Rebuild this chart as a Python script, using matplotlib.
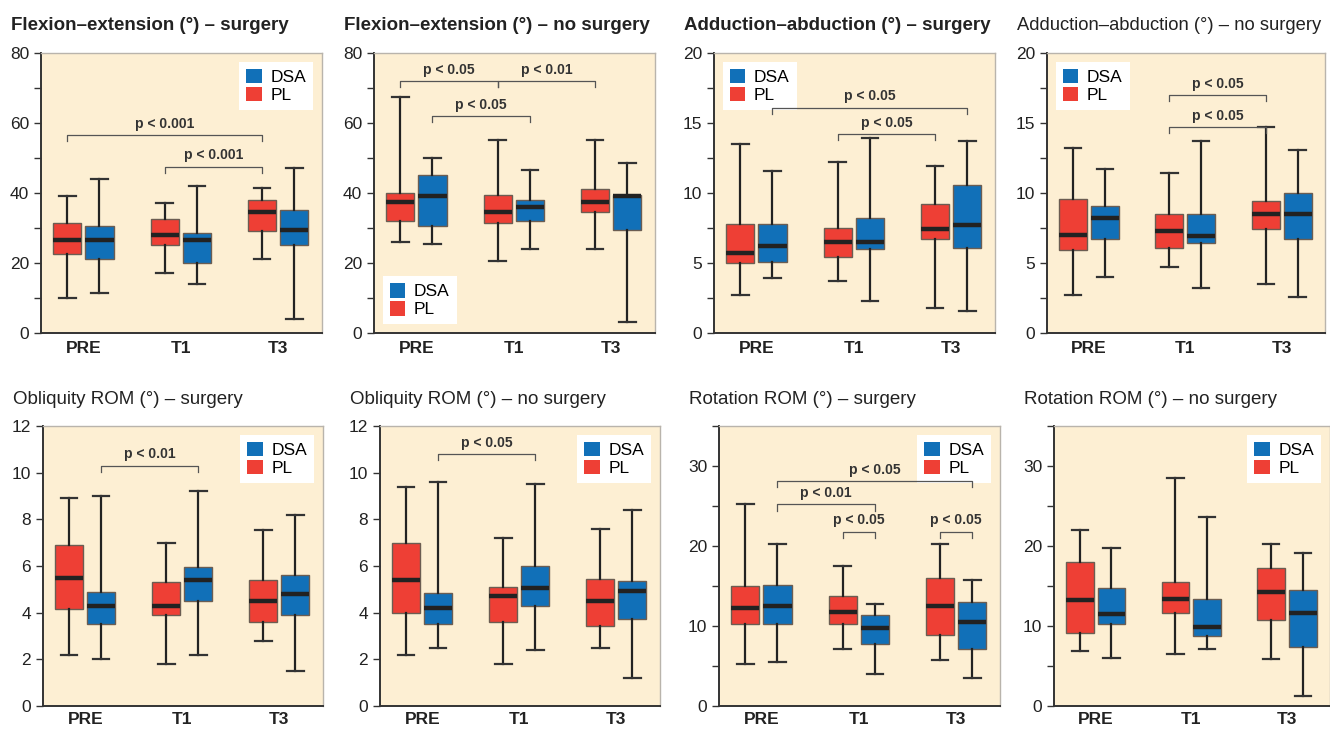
import matplotlib
matplotlib.use("Agg")
import matplotlib.pyplot as plt
from matplotlib.patches import Patch

plt.rcParams['font.family'] = ['Liberation Sans', 'DejaVu Sans']

RED = '#ee3f35'
BLUE = '#1170b8'
BG = '#fdefd3'

timepoints = ['PRE', 'T1', 'T3']

titles = [
    'Flexion–extension (°) – surgery',
    'Flexion–extension (°) – no surgery',
    'Adduction–abduction (°) – surgery',
    'Adduction–abduction (°) – no surgery',
    'Obliquity ROM (°) – surgery',
    'Obliquity ROM (°) – no surgery',
    'Rotation ROM (°) – surgery',
    'Rotation ROM (°) – no surgery',
]
title_bold = [True, True, True, False, False, False, False, False]

# (min, q1, median, q3, max) per timepoint
pl_flex_s = [(10, 22.5, 26.5, 31.5, 39), (17, 25, 28, 32.5, 37), (21, 29, 34.5, 38, 41.5)]
dsa_flex_s = [(11.5, 21, 26.5, 30.5, 44), (14, 20, 26.5, 28.5, 42), (4, 25, 29.5, 35, 47)]
pl_flex_n = [(26, 32, 37.5, 40, 67.5), (20.5, 31.5, 34.5, 39.5, 55), (24, 34.5, 37.5, 41, 55)]
dsa_flex_n = [(25.5, 30.5, 39, 45, 50), (24, 32, 36, 38, 46.5), (3, 29.5, 39, 39.5, 48.5)]
pl_add_s = [(2.7, 5, 5.7, 7.8, 13.5), (3.7, 5.4, 6.5, 7.5, 12.2), (1.8, 6.7, 7.4, 9.2, 11.9)]
dsa_add_s = [(3.9, 5.1, 6.2, 7.8, 11.6), (2.3, 6, 6.5, 8.2, 13.9), (1.6, 6.1, 7.7, 10.6, 13.7)]
pl_add_n = [(2.7, 5.9, 7, 9.6, 13.2), (4.7, 6.1, 7.3, 8.5, 11.4), (3.5, 7.4, 8.5, 9.4, 14.7)]
dsa_add_n = [(4, 6.7, 8.2, 9.1, 11.7), (3.2, 6.4, 6.9, 8.5, 13.7), (2.6, 6.7, 8.5, 10, 13.1)]
pl_obl_s = [(2.2, 4.15, 5.5, 6.9, 8.9), (1.8, 3.9, 4.3, 5.3, 7), (2.8, 3.6, 4.5, 5.4, 7.55)]
dsa_obl_s = [(2, 3.5, 4.3, 4.9, 9), (2.2, 4.5, 5.4, 5.95, 9.2), (1.5, 3.9, 4.8, 5.6, 8.2)]
pl_obl_n = [(2.2, 4, 5.4, 7, 9.4), (1.8, 3.6, 4.7, 5.1, 7.2), (2.5, 3.45, 4.5, 5.45, 7.6)]
dsa_obl_n = [(2.5, 3.5, 4.2, 4.85, 9.6), (2.4, 4.3, 5.05, 6, 9.5), (1.2, 3.75, 4.95, 5.35, 8.4)]
pl_rot_s = [(5.3, 10.3, 12.3, 15, 25.2), (7.1, 10.3, 11.7, 13.7, 17.5), (5.7, 8.9, 12.5, 16, 20.2)]
dsa_rot_s = [(5.5, 10.3, 12.5, 15.1, 20.2), (4, 7.8, 9.8, 11.4, 12.8), (3.5, 7.1, 10.5, 13, 15.7)]
pl_rot_n = [(6.9, 9.1, 13.2, 18, 22), (6.5, 11.6, 13.4, 15.5, 28.5), (5.9, 10.7, 14.3, 17.3, 20.2)]
dsa_rot_n = [(6, 10.3, 11.5, 14.7, 19.7), (7.1, 8.7, 9.9, 13.4, 23.6), (1.3, 7.4, 11.6, 14.5, 19.1)]

pl_all = [pl_flex_s, pl_flex_n, pl_add_s, pl_add_n, pl_obl_s, pl_obl_n, pl_rot_s, pl_rot_n]
dsa_all = [dsa_flex_s, dsa_flex_n, dsa_add_s, dsa_add_n, dsa_obl_s, dsa_obl_n, dsa_rot_s, dsa_rot_n]

# y-axis: (top, major step, minor step)
yaxes = [(80, 20, 10), (80, 20, 10), (20, 5, 2.5), (20, 5, 2.5),
         (12, 2, 2), (12, 2, 2), (35, 10, 5), (35, 10, 5)]

legend_loc = ['upper right', 'lower left', 'upper left', 'upper left',
              'upper right', 'upper right', 'upper right', 'upper right']

# brackets: (group a, series a, group b, series b, y, text); series 0 = PL, 1 = DSA
brackets = [
    [(0, 0, 2, 0, 56.5, 'p < 0.001'), (1, 0, 2, 0, 47.5, 'p < 0.001')],
    [(0, 0, 1, 0, 72, 'p < 0.05'), (1, 0, 2, 0, 72, 'p < 0.01'), (0, 1, 1, 1, 62, 'p < 0.05')],
    [(0, 1, 2, 1, 16.1, 'p < 0.05'), (1, 0, 2, 0, 14.2, 'p < 0.05')],
    [(1, 0, 2, 0, 17.0, 'p < 0.05'), (1, 0, 2, 0, 14.7, 'p < 0.05')],
    [(0, 1, 1, 1, 10.3, 'p < 0.01')],
    [(0, 1, 1, 1, 10.8, 'p < 0.05')],
    [(0, 1, 2, 1, 28.1, 'p < 0.05'), (0, 1, 1, 1, 25.2, 'p < 0.01'),
     (1, 0, 1, 1, 21.8, 'p < 0.05'), (2, 0, 2, 1, 21.8, 'p < 0.05')],
    [],
]

OFF = 0.165
W = 0.29


def stats_of(vals):
    return [dict(whislo=v[0], q1=v[1], med=v[2], q3=v[3], whishi=v[4], fliers=[]) for v in vals]


fig = plt.figure(figsize=(13.3, 7.3), dpi=100)
lefts = [41, 374, 714, 1047, 43, 380, 719, 1054]
widths = [281, 281, 281, 278, 280, 280, 281, 276]

for i in range(8):
    row = i // 4
    top_px = 53 if row == 0 else 426
    ax = fig.add_axes([lefts[i] / 1330, 1 - (top_px + 280) / 730, widths[i] / 1330, 280 / 730])
    ax.set_facecolor(BG)

    for k, (vals, col) in enumerate([(pl_all[i], RED), (dsa_all[i], BLUE)]):
        pos = [g + 1 + (OFF if k else -OFF) for g in range(3)]
        ax.bxp(stats_of(vals), positions=pos, widths=W, patch_artist=True, showfliers=False,
               boxprops=dict(facecolor=col, edgecolor='#6b5d52', linewidth=1.0),
               medianprops=dict(color='#222222', linewidth=3.2, solid_capstyle='butt'),
               whiskerprops=dict(color='#222222', linewidth=1.6),
               capprops=dict(color='#333333', linewidth=1.6),
               capwidths=0.17, zorder=3)

    top, major, minor = yaxes[i]
    ax.set_ylim(0, top)
    ax.set_xlim(0.565, 3.45)
    ax.set_yticks([v for v in range(0, int(top) + 1, major)])
    mins = []
    v = 0.0
    while v <= top + 1e-9:
        mins.append(v)
        v += minor
    ax.set_yticks(mins, minor=True)
    ax.set_xticks([1, 2, 3])
    ax.set_xticklabels(timepoints, fontsize=12.5, fontweight='bold', color='#222222')
    ax.tick_params(axis='x', length=0, pad=6 if row == 0 else 4)
    ax.tick_params(axis='y', which='both', direction='out', length=5, width=1.0,
                   colors='#333333', labelsize=12.5, labelcolor='#222222')
    for s in ['top', 'right']:
        ax.spines[s].set_color('#b9b4ac')
        ax.spines[s].set_linewidth(1.0)
    for s in ['left', 'bottom']:
        ax.spines[s].set_color('#333333')
        ax.spines[s].set_linewidth(1.4)

    tick = top * 0.022
    for ga, sa, gb, sb, y, txt in brackets[i]:
        xa = ga + 1 + (OFF if sa else -OFF)
        xb = gb + 1 + (OFF if sb else -OFF)
        ax.plot([xa, xa, xb, xb], [y - tick, y, y, y - tick], color='#555555', lw=0.9, zorder=4)
        ax.text((xa + xb) / 2, y + top * 0.016, txt, ha='center', va='bottom',
                fontsize=10, fontweight='bold', color='#333333')

    handles = [Patch(facecolor=BLUE, edgecolor='none', label='DSA'),
               Patch(facecolor=RED, edgecolor='none', label='PL')]
    leg = ax.legend(handles=handles, loc=legend_loc[i], fontsize=12.5, frameon=True,
                    fancybox=False, handlelength=0.9, handleheight=0.9, handletextpad=0.5,
                    borderpad=0.4, labelspacing=0.1, borderaxespad=0.5)
    leg.get_frame().set_facecolor('white')
    leg.get_frame().set_edgecolor('none')
    leg.get_frame().set_alpha(1)
    leg.set_zorder(2)

    tw = 'bold' if title_bold[i] else 'normal'
    ty = 1 - 26 / 730 if row == 0 else 1 - 399 / 730
    fs = 13.5 if title_bold[i] or row == 1 else 13.2
    fig.text((lefts[i] - 30) / 1330, ty, titles[i], fontsize=fs, fontweight=tw,
             color='#222222', va='center', ha='left')

fig.savefig('out.png', dpi=100)
